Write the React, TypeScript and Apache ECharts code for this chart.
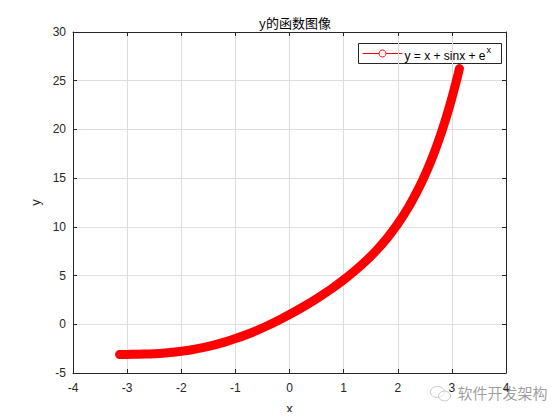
import React, { useEffect, useRef } from "react";
import * as echarts from "echarts";

const xValues = [-3.14, -3.0, -2.8, -2.6, -2.4, -2.2, -2.0, -1.8, -1.6, -1.4, -1.2, -1.0, -0.8, -0.6, -0.4, -0.2, 0, 0.2, 0.4, 0.6, 0.8, 1.0, 1.2, 1.4, 1.6, 1.8, 2.0, 2.2, 2.4, 2.5, 2.6, 2.7, 2.8, 2.9, 3.0, 3.1, 3.14];
const yValues = [-3.10, -3.09, -3.07, -3.04, -2.99, -2.90, -2.77, -2.61, -2.40, -2.14, -1.83, -1.47, -1.07, -0.62, -0.12, 0.42, 1.0, 1.62, 2.28, 2.99, 3.74, 4.56, 5.45, 6.44, 7.55, 8.82, 10.30, 12.03, 14.10, 15.28, 16.58, 18.01, 19.58, 21.31, 23.23, 25.34, 26.25];
const xTicks = { min: -4, max: 4, interval: 1 };
const yTicks = { min: -5, max: 30, interval: 5 };
const titleText = "y的函数图像";
const seriesName = "y = x + sinx + e";
const watermark = "软件开发架构";

const FONT = "'Liberation Sans', Arial, Helvetica, sans-serif";
const AX = "#262626";

export default function App() {
  const ref = useRef<HTMLDivElement>(null);
  useEffect(() => {
    if (!ref.current) return;
    const chart = echarts.init(ref.current, undefined, { renderer: "svg" });
    const data = xValues.map((x, i) => [x, yValues[i]]);
    const hiddenAxis = (pos: string) => ({
      type: "value",
      position: pos,
      min: pos === "top" ? xTicks.min : yTicks.min,
      max: pos === "top" ? xTicks.max : yTicks.max,
      interval: pos === "top" ? xTicks.interval : yTicks.interval,
      axisLine: { show: true, onZero: false, lineStyle: { color: AX, width: 1 } },
      axisTick: { show: true, inside: true, length: 4, lineStyle: { color: AX } },
      axisLabel: { show: false },
      splitLine: { show: false },
    });
    chart.setOption({
      animation: false,
      backgroundColor: "#ffffff",
      title: {
        text: titleText,
        left: 290,
        textAlign: "center",
        top: 11,
        textStyle: { fontSize: 13, fontWeight: "normal", color: "#000", fontFamily: "'Noto Sans CJK SC', " + FONT },
      },
      grid: { left: 73, right: 54, top: 32, bottom: 47, containLabel: false },
      xAxis: [
        {
          type: "value",
          min: xTicks.min,
          max: xTicks.max,
          interval: xTicks.interval,
          name: "x",
          nameLocation: "middle",
          nameGap: 29,
          nameTextStyle: { fontSize: 13, color: AX, fontFamily: FONT },
          axisLine: { show: true, onZero: false, lineStyle: { color: AX, width: 1 } },
          axisTick: { show: true, inside: true, length: 4, lineStyle: { color: AX } },
          axisLabel: { fontSize: 12, color: AX, margin: 9, fontFamily: FONT },
          splitLine: { show: true, lineStyle: { color: "#dedede", width: 1 } },
        },
        hiddenAxis("top"),
      ],
      yAxis: [
        {
          type: "value",
          min: yTicks.min,
          max: yTicks.max,
          interval: yTicks.interval,
          name: "y",
          nameLocation: "middle",
          nameGap: 30,
          nameRotate: 90,
          nameTextStyle: { fontSize: 13, color: AX, fontFamily: FONT },
          axisLine: { show: true, onZero: false, lineStyle: { color: AX, width: 1 } },
          axisTick: { show: true, inside: true, length: 4, lineStyle: { color: AX } },
          axisLabel: { fontSize: 12, color: AX, margin: 7, fontFamily: FONT },
          splitLine: { show: true, lineStyle: { color: "#dedede", width: 1 } },
        },
        hiddenAxis("right"),
      ],
      series: [
        {
          type: "line",
          name: seriesName,
          data,
          smooth: 0.3,
          symbol: "none",
          lineStyle: { color: "#ff0000", width: 9, cap: "round", join: "round" },
          z: 3,
        },
      ],
      graphic: [
        {
          type: "group",
          left: 358,
          top: 43,
          z: 10,
          children: [
            { type: "rect", shape: { x: 0, y: 0, width: 143, height: 20 }, style: { fill: "#fff", stroke: "#262626", lineWidth: 1 } },
            { type: "line", shape: { x1: 4, y1: 10, x2: 44, y2: 10 }, style: { stroke: "#ff0000", lineWidth: 1 } },
            { type: "circle", shape: { cx: 24, cy: 10, r: 3.5 }, style: { fill: "#fff", stroke: "#ff0000", lineWidth: 1 } },
            {
              type: "text",
              x: 46,
              y: 2,
              style: {
                text: "{m|" + seriesName + "}{s|x}",
                rich: {
                  m: { fontSize: 12, fill: "#000", fontFamily: FONT, padding: [4, 0, 0, 0] },
                  s: { fontSize: 9, fill: "#000", fontFamily: FONT, padding: [0, 0, 7, 1] },
                },
              },
            },
          ],
        },
        {
          type: "group",
          left: 430,
          top: 385,
          z: 20,
          children: [
            { type: "ellipse", shape: { cx: 8, cy: 8, rx: 7, ry: 5.5 }, style: { fill: "rgba(255,255,255,0.6)", stroke: "#c8c8c8", lineWidth: 1 } },
            { type: "ellipse", shape: { cx: 15, cy: 12, rx: 6, ry: 4.8 }, style: { fill: "rgba(255,255,255,0.6)", stroke: "#c8c8c8", lineWidth: 1 } },
            {
              type: "text",
              x: 28,
              y: 1,
              style: { text: watermark, fontSize: 15, fill: "rgba(140,140,140,0.85)", fontFamily: "'Noto Sans CJK SC', sans-serif" },
            },
          ],
        },
      ],
    });
    return () => chart.dispose();
  }, []);
  return <div ref={ref} style={{ width: 560, height: 420, margin: -8 }} />;
}
